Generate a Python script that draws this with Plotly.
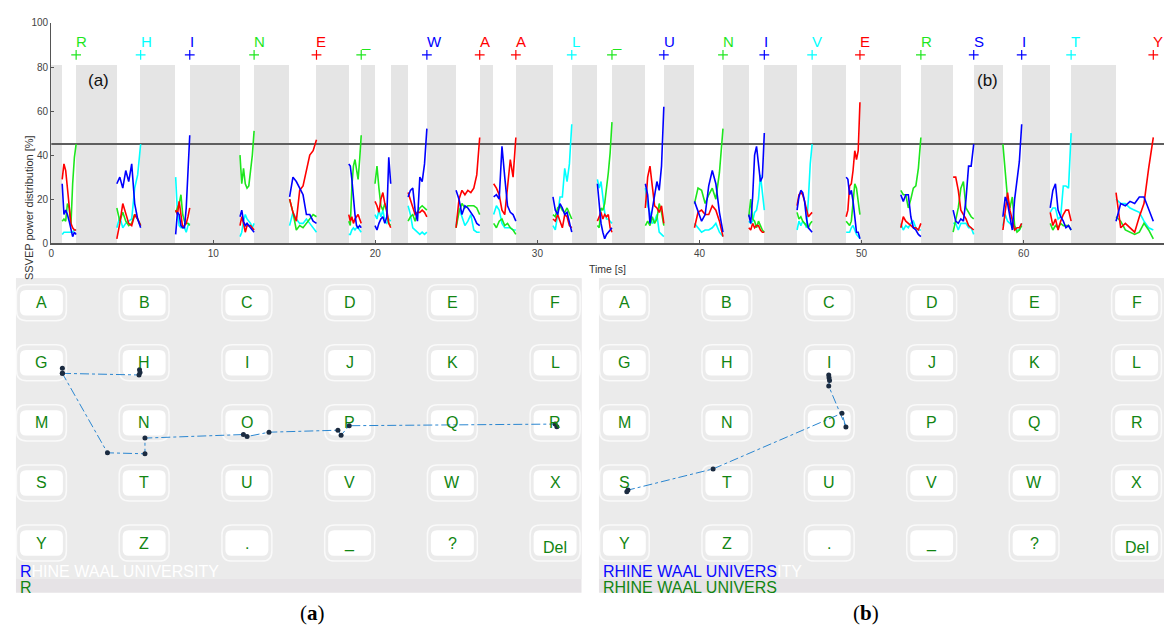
import plotly.graph_objects as go

FIG_W, FIG_H = 1164, 644
FONT = "Liberation Sans, Arial, Helvetica, sans-serif"

# ---------------- Top chart data ----------------
# white (analysis) windows: start / end time [s]; the end is the selection moment
seg_start = [0.68, 4.05, 7.68, 11.65, 14.71, 18.36, 19.98, 22.02, 24.98, 27.30, 30.96,
             33.70, 36.66, 39.69, 43.04, 46.02, 49.05, 52.42, 55.65, 58.72, 61.64, 65.70]
seg_end = [1.54, 5.52, 8.55, 12.52, 16.37, 19.13, 20.95, 23.18, 26.44, 28.67, 32.12,
           34.60, 37.80, 41.45, 44.00, 46.95, 49.90, 53.66, 56.92, 59.88, 62.93, 68.00]

red = [
    [29, 36, 33, 26, 16, 9, 7, 6, 6],
    [2, 9, 18, 13, 9, 8, 13, 11, 8],
    [15, 13, 19, 12, 7, 8, 9, 12, 16],
    [8, 12, 9, 5, 8, 8, 8, 7, 6],
    [20, 14, 10, 24, 26, 33, 40, 42, 47],
    [13, 10, 12, 9, 11, 12, 13, 11, 9],
    [19, 17, 14, 20, 23, 18, 15, 9, 7],
    [23, 20, 16, 13, 14, 14, 15, 14, 12],
    [7, 20, 24, 22, 24, 23, 25, 31, 48],
    [27, 25, 22, 15, 13, 25, 38, 30, 48],
    [11, 10, 13, 10, 7, 13, 12, 8, 7],
    [10, 12, 14, 11, 13, 12, 13, 7, 5],
    [16, 30, 35, 27, 17, 16, 14, 17, 9],
    [7, 14, 15, 13, 13, 17, 15, 10, 3],
    [7, 6, 9, 7, 8, 8, 6, 5, 5],
    [17, 22, 23, 22, 19, 16, 12, 13, 14],
    [12, 15, 26, 27, 33, 42, 38, 42, 64],
    [7, 12, 10, 9, 8, 7, 7, 6, 9],
    [30, 30, 24, 15, 13, 11, 8, 7, 6],
    [6, 16, 23, 15, 10, 6, 7, 7, 9],
    [14, 8, 11, 6, 10, 13, 15, 15, 10],
    [23, 7, 9, 7, 5, 12, 18, 34, 48],
]
green = [
    [10, 11, 10, 18, 16, 8, 27, 39, 45],
    [16, 10, 14, 10, 8, 9, 13, 11, 8],
    [14, 16, 18, 22, 13, 10, 9, 9, 8],
    [40, 27, 34, 27, 25, 26, 33, 40, 51],
    [20, 14, 6, 8, 7, 9, 11, 13, 12],
    [10, 8, 26, 35, 38, 34, 29, 38, 49],
    [27, 35, 25, 17, 15, 18, 14, 9, 8],
    [10, 12, 13, 10, 14, 16, 17, 16, 15],
    [7, 14, 18, 16, 17, 17, 17, 16, 13],
    [9, 7, 10, 11, 8, 9, 7, 6, 4],
    [13, 12, 16, 17, 15, 14, 16, 13, 11],
    [8, 7, 16, 15, 18, 24, 32, 41, 55],
    [8, 10, 8, 12, 9, 11, 18, 14, 8],
    [18, 25, 24, 18, 22, 25, 20, 32, 52],
    [12, 20, 11, 10, 7, 10, 8, 6, 5],
    [14, 11, 12, 10, 9, 8, 7, 9, 10],
    [10, 9, 8, 10, 18, 27, 25, 20, 13],
    [24, 22, 22, 16, 20, 25, 26, 34, 48],
    [5, 10, 16, 25, 28, 16, 14, 12, 11],
    [45, 32, 20, 16, 21, 8, 5, 6, 8],
    [9, 6, 8, 7, 9, 8, 8, 8, 6],
    [12, 10, 6, 5, 4, 5, 9, 6, 2],
]
blue = [
    [27, 13, 15, 13, 10, 6, 3, 5, 4],
    [27, 30, 25, 33, 28, 36, 18, 11, 7],
    [4, 14, 13, 8, 7, 7, 16, 36, 49],
    [12, 15, 10, 8, 9, 8, 7, 6, 5],
    [21, 30, 28, 25, 22, 13, 13, 10, 9],
    [36, 35, 29, 20, 13, 8, 7, 8, 7],
    [8, 6, 9, 11, 12, 9, 12, 39, 27],
    [21, 24, 25, 15, 10, 30, 28, 36, 52],
    [24, 20, 13, 17, 16, 14, 12, 9, 8],
    [21, 22, 20, 44, 30, 17, 14, 13, 10],
    [21, 15, 13, 18, 16, 13, 14, 9, 5],
    [27, 17, 9, 5, 2, 4, 5, 6, 7],
    [27, 22, 9, 16, 23, 28, 24, 35, 62],
    [19, 14, 10, 13, 26, 33, 27, 14, 5],
    [13, 9, 21, 40, 44, 36, 28, 30, 50],
    [15, 21, 24, 23, 19, 11, 7, 6, 5],
    [30, 29, 22, 24, 19, 11, 5, 5, 2],
    [22, 19, 22, 22, 12, 7, 6, 4, 3],
    [15, 10, 9, 11, 10, 20, 35, 35, 45],
    [12, 21, 18, 11, 6, 20, 28, 37, 54],
    [16, 24, 27, 15, 12, 10, 7, 8, 6],
    [10, 18, 17, 19, 18, 21, 21, 15, 10],
]
cyan = [
    [4, 5, 5, 5, 5, 5, 5, 6, 6],
    [7, 12, 7, 9, 10, 11, 25, 31, 45],
    [30, 14, 8, 7, 7, 7, 5, 8, 9],
    [3, 5, 10, 13, 11, 10, 9, 7, 9],
    [8, 14, 11, 9, 9, 11, 9, 7, 5],
    [4, 4, 6, 7, 6, 7, 7, 6, 5],
    [13, 11, 15, 12, 15, 10, 9, 11, 10],
    [17, 13, 7, 6, 5, 4, 5, 4, 5],
    [8, 16, 12, 8, 10, 13, 6, 5, 5],
    [13, 17, 15, 9, 7, 7, 7, 6, 6],
    [8, 6, 13, 21, 21, 34, 28, 36, 54],
    [29, 25, 28, 21, 14, 11, 11, 10, 9],
    [25, 17, 14, 9, 10, 13, 5, 4, 3],
    [9, 7, 5, 6, 6, 7, 9, 5, 3],
    [10, 9, 10, 14, 15, 20, 31, 24, 15],
    [6, 10, 8, 10, 9, 7, 20, 36, 45],
    [5, 5, 5, 7, 8, 6, 4, 3, 2],
    [9, 6, 8, 7, 9, 10, 7, 6, 6],
    [9, 9, 6, 9, 9, 9, 7, 7, 4],
    [8, 13, 10, 9, 8, 6, 6, 6, 9],
    [14, 16, 16, 11, 12, 26, 26, 25, 50],
    [20, 18, 18, 16, 15, 14, 10, 7, 6],
]

sel_letters = ["R", "H", "I", "N", "E", "_", "", "W", "A", "A", "L", "_", "U", "N",
               "I", "V", "E", "R", "S", "I", "T", "Y"]
sel_class = ["green", "cyan", "blue", "green", "red", "green", None, "blue", "red", "red",
             "cyan", "green", "blue", "green", "blue", "cyan", "red", "green", "blue",
             "blue", "cyan", "red"]

threshold = 45
window_top = 81
marker_level = 85.5
letter_level = 91.5
x_max = 68.66
y_ticks = [0, 20, 40, 60, 80, 100]
x_ticks = [0, 10, 20, 30, 40, 50, 60]

class_colors = {"red": "#ff0000", "green": "#1ee61e", "blue": "#0000ff", "cyan": "#00ffff"}

# ---------------- Keyboard data ----------------
key_rows = [["A", "B", "C", "D", "E", "F"],
            ["G", "H", "I", "J", "K", "L"],
            ["M", "N", "O", "P", "Q", "R"],
            ["S", "T", "U", "V", "W", "X"],
            ["Y", "Z", ".", "_", "?", "Del"]]

# gaze trajectories in key units (column, row)
gaze_a_col = [5.017, 5.0, 2.996, 2.917, 2.886, 2.215, 2.002, 1.966, 1.008, 1.008, 0.643,
              0.204, 0.204, 0.204, 0.950, 0.955, 0.960]
gaze_a_row = [2.064, 2.020, 2.047, 2.204, 2.122, 2.155, 2.227, 2.194, 2.253, 2.514, 2.498,
              1.176, 1.089, 1.176, 1.203, 1.117, 1.160]
gaze_b_col = [0.024, 0.035, 0.866, 2.124, 2.163, 1.995, 2.003, 1.995, 1.998]
gaze_b_row = [3.146, 3.118, 2.766, 1.840, 2.069, 1.388, 1.296, 1.203, 1.250]

target_text = "RHINE WAAL UNIVERSITY"
typed_a = 1
typed_b = 18

# ---------------- Figure ----------------
fig = go.Figure()

# gray (stimulation) windows
gray_start = [0] + seg_end[:-1]
gray_end = seg_start
fig.add_trace(go.Bar(
    x=[(a + b) / 2 for a, b in zip(gray_start, gray_end)],
    y=[window_top] * len(gray_start),
    width=[b - a for a, b in zip(gray_start, gray_end)],
    marker=dict(color="#e5e5e5", line=dict(width=0)),
    xaxis="x", yaxis="y", hoverinfo="skip", showlegend=False))

# threshold
fig.add_trace(go.Scatter(x=[0, x_max], y=[threshold, threshold], mode="lines",
                         line=dict(color="#5e5e5e", width=2),
                         xaxis="x", yaxis="y", hoverinfo="skip", showlegend=False))


def seg_series(vals):
    xs, ys = [], []
    for s, e, v in zip(seg_start, seg_end, vals):
        n = len(v)
        xs += [s + (e - s) * k / (n - 1) for k in range(n)] + [None]
        ys += list(v) + [None]
    return xs, ys


for name, vals in [("cyan", cyan), ("green", green), ("red", red), ("blue", blue)]:
    xs, ys = seg_series(vals)
    fig.add_trace(go.Scatter(x=xs, y=ys, mode="lines",
                             line=dict(color=class_colors[name], width=1.6),
                             xaxis="x", yaxis="y", showlegend=False, hoverinfo="skip"))

# selection markers
mx, mc = [], []
for t, c in zip(seg_end, sel_class):
    if c:
        mx.append(t)
        mc.append(class_colors[c])
fig.add_trace(go.Scatter(x=mx, y=[marker_level] * len(mx), mode="markers",
                         marker=dict(symbol="cross-thin", size=7,
                                     line=dict(color=mc, width=1.2)),
                         xaxis="x", yaxis="y", showlegend=False, hoverinfo="skip"))

annotations = []
for t, l, c in zip(seg_end, sel_letters, sel_class):
    if c:
        annotations.append(dict(x=t, y=letter_level, xref="x", yref="y", text=l,
                                showarrow=False, xanchor="left", yanchor="middle",
                                xshift=-2,
                                font=dict(family=FONT, size=15, color=class_colors[c])))

annotations.append(dict(x=2.9, y=74, xref="x", yref="y", text="(a)", showarrow=False,
                        font=dict(family=FONT, size=17, color="#111")))
annotations.append(dict(x=57.8, y=74, xref="x", yref="y", text="(b)", showarrow=False,
                        font=dict(family=FONT, size=17, color="#111")))
annotations.append(dict(x=18 / FIG_W, y=1 - 129 / FIG_H, xref="paper", yref="paper",
                        text="SSVEP power distribution [%]", textangle=-90, showarrow=False,
                        font=dict(family=FONT, size=11, color="#333")))
annotations.append(dict(x=606 / FIG_W, y=1 - 268 / FIG_H, xref="paper", yref="paper",
                        text="Time [s]", showarrow=False,
                        font=dict(family=FONT, size=10.5, color="#333")))

# ---------------- Keyboards ----------------
shapes = []


def rpath(cx, cy, hw, hh, rx, ry):
    x0, x1, y0, y1 = cx - hw, cx + hw, cy - hh, cy + hh
    return (f"M {x0+rx},{y0} L {x1-rx},{y0} Q {x1},{y0} {x1},{y0+ry} "
            f"L {x1},{y1-ry} Q {x1},{y1} {x1-rx},{y1} L {x0+rx},{y1} "
            f"Q {x0},{y1} {x0},{y1-ry} L {x0},{y0+ry} Q {x0},{y0} {x0+rx},{y0} Z")


panel_top, gray_bottom, panel_bottom = -0.405, 4.599, 4.828

for xa, ya, gc, gr, typed in [("x2", "y2", gaze_a_col, gaze_a_row, typed_a),
                              ("x3", "y3", gaze_b_col, gaze_b_row, typed_b)]:
    shapes.append(dict(type="rect", xref=f"{xa} domain", yref=f"{ya} domain",
                       x0=0, x1=1, y0=0, y1=1, fillcolor="#e6e3e6",
                       line=dict(width=0), layer="below"))
    shapes.append(dict(type="rect", xref=f"{xa} domain", yref=ya,
                       x0=0, x1=1, y0=panel_top, y1=gray_bottom, fillcolor="#ebebeb",
                       line=dict(width=0), layer="below"))
    for r, row in enumerate(key_rows):
        for c, lab in enumerate(row):
            shapes.append(dict(type="path", xref=xa, yref=ya,
                               path=rpath(c, r, 0.243, 0.30, 0.10, 0.17),
                               line=dict(color="#fafafa", width=1.5), layer="below"))
            shapes.append(dict(type="path", xref=xa, yref=ya,
                               path=rpath(c, r, 0.209, 0.212, 0.06, 0.10),
                               fillcolor="#ffffff", line=dict(width=0), layer="below"))
            annotations.append(dict(x=c, y=r, xref=xa, yref=ya, text=lab, showarrow=False,
                                    yshift=-4 if lab == "Del" else 0,
                                    font=dict(family=FONT, size=16, color="#128512")))
    fig.add_trace(go.Scatter(x=gc, y=gr, mode="lines+markers", xaxis=xa, yaxis=ya,
                             line=dict(color="#2a86d0", width=1, dash="dashdot"),
                             marker=dict(color="#1b2b40", size=5),
                             showlegend=False, hoverinfo="skip"))
    annotations.append(dict(
        x=0.003, y=4.465, xref=f"{xa} domain", yref=ya, xanchor="left", yanchor="middle",
        showarrow=False,
        text=(f"<span style='color:#0a0aff'>{target_text[:typed]}</span>"
              f"<span style='color:#ffffff'>{target_text[typed:]}</span>"),
        font=dict(family=FONT, size=16)))
    annotations.append(dict(
        x=0.003, y=4.74, xref=f"{xa} domain", yref=ya, xanchor="left", yanchor="middle",
        showarrow=False, text=target_text[:typed],
        font=dict(family=FONT, size=16, color="#128512")))

annotations.append(dict(x=296 / FIG_W, y=1 - 633 / FIG_H, xref="paper", yref="paper",
                        text="(<b>a</b>)", showarrow=False,
                        font=dict(family="Liberation Serif, DejaVu Serif, serif", size=21,
                                  color="#000")))
annotations.append(dict(x=880 / FIG_W, y=1 - 633 / FIG_H, xref="paper", yref="paper",
                        text="(<b>b</b>)", showarrow=False,
                        font=dict(family="Liberation Serif, DejaVu Serif, serif", size=21,
                                  color="#000")))

kb_y_domain = [1 - 598 / FIG_H, 1 - 277.5 / FIG_H]
hidden = dict(visible=False, showgrid=False, zeroline=False)

fig.update_layout(
    width=FIG_W, height=FIG_H, margin=dict(l=0, r=0, t=0, b=0),
    paper_bgcolor="white", plot_bgcolor="rgba(0,0,0,0)",
    showlegend=False, bargap=0,
    xaxis=dict(domain=[48.3 / FIG_W, 1], range=[0, x_max], anchor="y",
               tickvals=x_ticks, showgrid=False, zeroline=False, showline=True,
               linecolor="#555", linewidth=1.5, ticks="inside", ticklen=3,
               tickcolor="#555", tickfont=dict(family=FONT, size=10, color="#444")),
    yaxis=dict(domain=[1 - 241.7 / FIG_H, 1 - 17.3 / FIG_H], range=[0, 100], anchor="x",
               tickvals=y_ticks, showgrid=False, zeroline=False, showline=True,
               linecolor="#555", linewidth=1.2, ticks="inside", ticklen=3,
               tickcolor="#555", tickfont=dict(family=FONT, size=10, color="#444")),
    xaxis2=dict(domain=[13 / FIG_W, 580 / FIG_W], range=[-0.2476, 5.257], anchor="y2",
                **hidden),
    yaxis2=dict(domain=kb_y_domain, range=[panel_bottom, panel_top], anchor="x2", **hidden),
    xaxis3=dict(domain=[597.5 / FIG_W, 1], range=[-0.248, 5.268], anchor="y3", **hidden),
    yaxis3=dict(domain=kb_y_domain, range=[panel_bottom, panel_top], anchor="x3", **hidden),
    shapes=shapes, annotations=annotations,
)

fig.write_html("out.html")
